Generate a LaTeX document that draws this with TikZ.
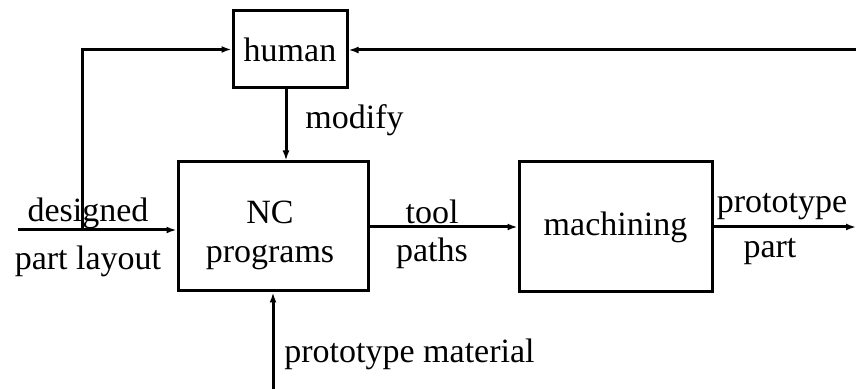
\documentclass[tikz,border=0pt]{standalone}
\usepackage{fontspec}
\setmainfont{Liberation Serif}
\usetikzlibrary{arrows.meta}
\begin{document}
\begin{tikzpicture}[x=0.5pt,y=-0.5pt,
  block/.style={draw,line width=1.5pt,inner sep=0pt,align=center},
  flow/.style={line width=1.5pt,-{Latex[length=5pt,width=3.5pt]}},
  lbl/.style={inner sep=0pt,align=center},
  every node/.style={font=\fontsize{17pt}{19pt}\selectfont}]
\useasboundingbox (0,0) rectangle (856,389);

% processing blocks
\node[block,minimum width=57pt,minimum height=38.5pt] (human) at (290,49.5) {human};
\node[block,minimum width=95pt,minimum height=64.5pt] (nc) at (273,226.5) {};
\node[block,minimum width=96.5pt,minimum height=65pt] (mach) at (615.5,227) {machining};

% free ends of the connectors
\coordinate (din) at (18,230);
\coordinate (loop) at (82,230);
\coordinate (fb) at (856,50);
\coordinate (mod) at (286,0);
\coordinate (mat) at (273,389);
\coordinate (out) at (856,227);

% connectors
\draw[flow] (din) -- (din -| nc.west);
\draw[flow] (loop) |- (human.west);
\draw[flow] (fb) -- (fb -| human.east);
\draw[flow] (mod |- human.south) -- (mod |- nc.north);
\draw[flow] (mat) -- (nc.south);
\draw[flow] (nc.east |- mach.west) -- (mach.west);
\draw[flow] (mach.east) -- (out);

% labels
\node[lbl] (ncl1) at (270,212) {NC};
\node[lbl] (ncl2) at (270,257) {programs};
\node[lbl] (l1) at (88,213) {designed};
\node[lbl] (l2) at (88,261) {part layout};
\node[lbl,anchor=west] (lmod) at (305,120) {modify};
\node[lbl] (lt1) at (432,212) {tool};
\node[lbl] (lt2) at (432,253) {paths};
\node[lbl] (lp1) at (782,207) {prototype};
\node[lbl] (lp2) at (770,252) {part};
\node[lbl,anchor=west] (lmat) at (284,354) {prototype material};
\end{tikzpicture}
\end{document}
